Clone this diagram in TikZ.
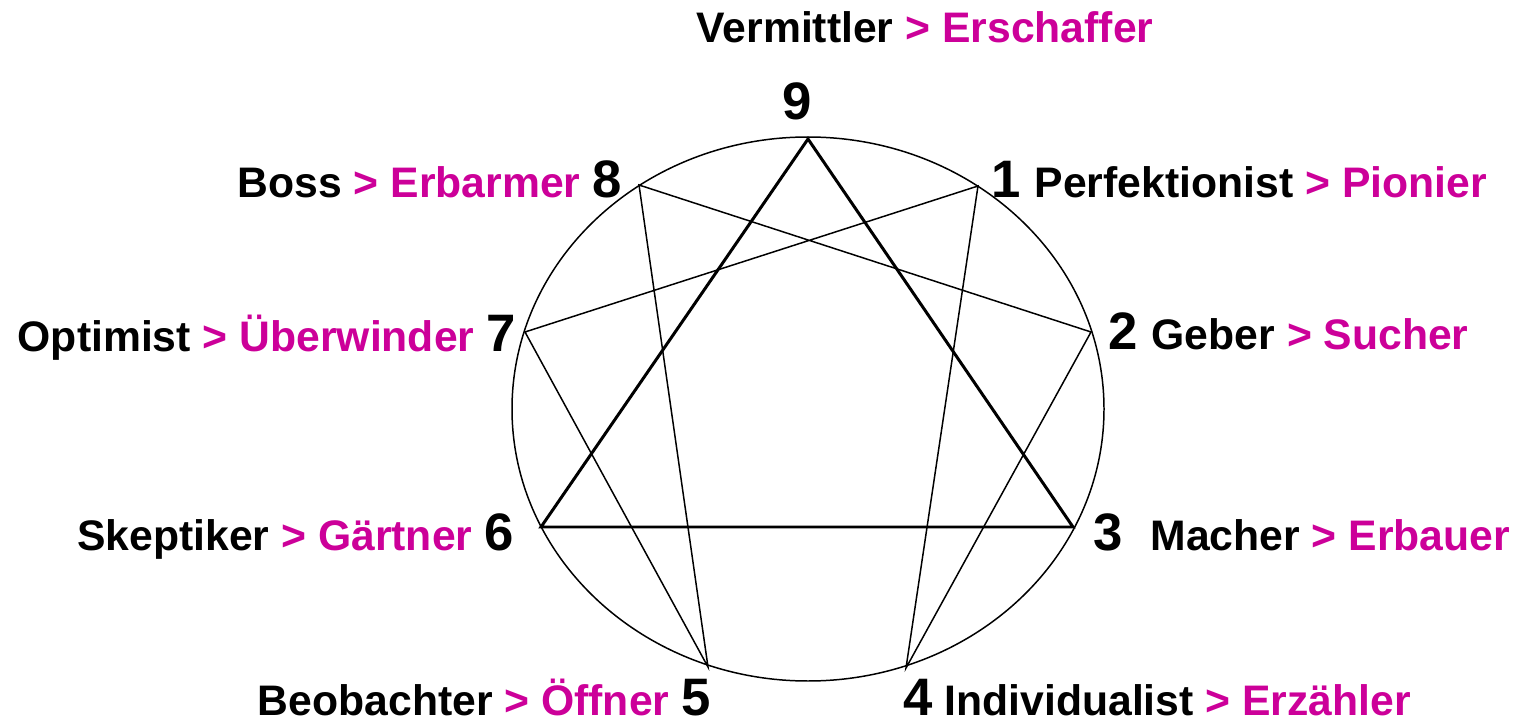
\documentclass[tikz,border=0pt]{standalone}
\usepackage{fontspec}
\setmainfont{Liberation Sans}
\usepackage{xcolor}
\definecolor{magent}{HTML}{CC0099}
\newcommand{\typname}[2]{#1 \textcolor{magent}{> #2}}
\newcommand{\typnum}[1]{{\fontsize{30}{32}\selectfont #1}}
\tikzset{
  lbl/.style={font=\bfseries\fontsize{24.3}{28}\selectfont, inner sep=0pt},
  thinline/.style={line width=0.85pt, line join=miter},
  triline/.style={line width=1.7pt, line join=miter}
}
\begin{document}
\begin{tikzpicture}[x=0.2mm, y=-0.2mm]
  \useasboundingbox (0,0) rectangle (1517,723);
  % circle and points
  \draw[thinline] (808,409) ellipse [x radius=296, y radius=272];
  \coordinate (p9) at (808,139);
  \coordinate (p1) at (978,186);
  \coordinate (p2) at (1091,332);
  \coordinate (p3) at (1073,527);
  \coordinate (p4) at (906,668);
  \coordinate (p5) at (708,667);
  \coordinate (p6) at (541,527);
  \coordinate (p7) at (525,332);
  \coordinate (p8) at (639,185);
  % hexad and triangle
  \draw[thinline] (p1) -- (p4) -- (p2) -- (p8) -- (p5) -- (p7) -- cycle;
  \draw[triline] (p9) -- (p3) -- (p6) -- cycle;
  % labels
  \node[lbl, anchor=base] (t9) at (925,43) {\typname{Vermittler}{Erschaffer}};
  \node[lbl, anchor=base] (n9) at (797,120) {\typnum{9}};
  \node[lbl, anchor=base east] (t8) at (622,198) {\typname{Boss}{Erbarmer} \typnum{8}};
  \node[lbl, anchor=base west] (t1) at (991,198) {\typnum{1}\hspace{0.33em}\typname{Perfektionist}{Pionier}};
  \node[lbl, anchor=base east] (t7) at (516,352) {\typname{Optimist}{Überwinder} \typnum{7}};
  \node[lbl, anchor=base west] (t2) at (1108,350) {\typnum{2}\hspace{0.33em}\typname{Geber}{Sucher}};
  \node[lbl, anchor=base east] (t6) at (514,550) {\typname{Skeptiker}{Gärtner} \typnum{6}};
  \node[lbl, anchor=base west] (t3) at (1093,550) {\typnum{3}\hspace{0.65em}\typname{Macher}{Erbauer}};
  \node[lbl, anchor=base east] (t5) at (711,715) {\typname{Beobachter}{Öffner} \typnum{5}};
  \node[lbl, anchor=base west] (t4) at (903,715) {\typnum{4} \typname{Individualist}{Erzähler}};
\end{tikzpicture}
\end{document}
